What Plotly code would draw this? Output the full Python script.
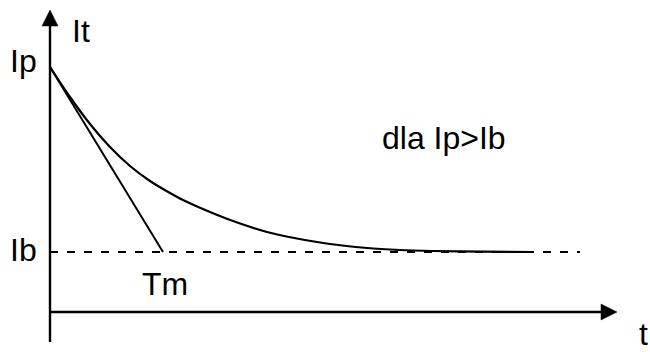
import plotly.graph_objects as go

# Current levels (schematic units, origin at the axes crossing)
I_P = 245          # initial current Ip
I_B = 60           # steady-state current Ib
T_M = 113          # time where the initial tangent reaches Ib

curve_t = [0, 20, 40, 60, 80, 100, 120, 133, 160, 183, 217, 267, 317, 350, 383, 433, 483]
curve_i = [245, 215, 188, 165, 146, 131, 119, 112, 100, 91, 80, 70, 64, 62, 61, 60.3, 60]

# Axis extents
Y_AXIS_BOTTOM = -30
Y_AXIS_TIP = 302
X_AXIS_TIP = 567
IB_LINE_END = 530
HEAD_LEN = 16
HEAD_HALF = 8

BLACK = "#000000"
FONT = "Liberation Sans, Arial, sans-serif"

fig = go.Figure()

# Axes lines
fig.add_trace(go.Scatter(x=[0, 0], y=[Y_AXIS_BOTTOM, Y_AXIS_TIP - HEAD_LEN],
                         mode="lines", line=dict(color=BLACK, width=2.4),
                         hoverinfo="skip"))
fig.add_trace(go.Scatter(x=[0, X_AXIS_TIP - HEAD_LEN], y=[0, 0],
                         mode="lines", line=dict(color=BLACK, width=2.4),
                         hoverinfo="skip"))

# Arrow heads
fig.add_trace(go.Scatter(
    x=[-HEAD_HALF, 0, HEAD_HALF, -HEAD_HALF],
    y=[Y_AXIS_TIP - HEAD_LEN, Y_AXIS_TIP, Y_AXIS_TIP - HEAD_LEN, Y_AXIS_TIP - HEAD_LEN],
    mode="lines", fill="toself", fillcolor=BLACK,
    line=dict(color=BLACK, width=0.5), hoverinfo="skip"))
fig.add_trace(go.Scatter(
    x=[X_AXIS_TIP - HEAD_LEN, X_AXIS_TIP, X_AXIS_TIP - HEAD_LEN, X_AXIS_TIP - HEAD_LEN],
    y=[-HEAD_HALF, 0, HEAD_HALF, -HEAD_HALF],
    mode="lines", fill="toself", fillcolor=BLACK,
    line=dict(color=BLACK, width=0.5), hoverinfo="skip"))

# Steady-state level Ib (dashed)
fig.add_trace(go.Scatter(x=[0, IB_LINE_END], y=[I_B, I_B], mode="lines",
                         line=dict(color=BLACK, width=2, dash="8px,9px"),
                         hoverinfo="skip"))

# Initial tangent reaching Ib at Tm
fig.add_trace(go.Scatter(x=[0, T_M], y=[I_P, I_B], mode="lines",
                         line=dict(color=BLACK, width=2), hoverinfo="skip"))

# Decay curve
fig.add_trace(go.Scatter(x=curve_t, y=curve_i, mode="lines",
                         line=dict(color=BLACK, width=2.2, shape="spline", smoothing=0.8),
                         hoverinfo="skip"))

def label(text, x, y, xanchor="left"):
    fig.add_annotation(text=text, x=x, y=y, xref="x", yref="y",
                       xanchor=xanchor, yanchor="middle", showarrow=False,
                       font=dict(family=FONT, size=32, color=BLACK))

label("It", 20, 281)
label("Ip", -11, 251.5, xanchor="right")
label("Ib", -11, 62, xanchor="right")
label("Tm", 115, 28.5, xanchor="center")
label("dla Ip>Ib", 393.5, 174, xanchor="center")
label("t", 587, -22)

fig.update_layout(
    width=650, height=352,
    margin=dict(l=0, r=0, t=0, b=0),
    paper_bgcolor="white", plot_bgcolor="white",
    showlegend=False,
    xaxis=dict(range=[-50, 600], visible=False, fixedrange=True),
    yaxis=dict(range=[-40, 312], visible=False, fixedrange=True),
)

fig.write_html("out.html", config={"displayModeBar": False})
